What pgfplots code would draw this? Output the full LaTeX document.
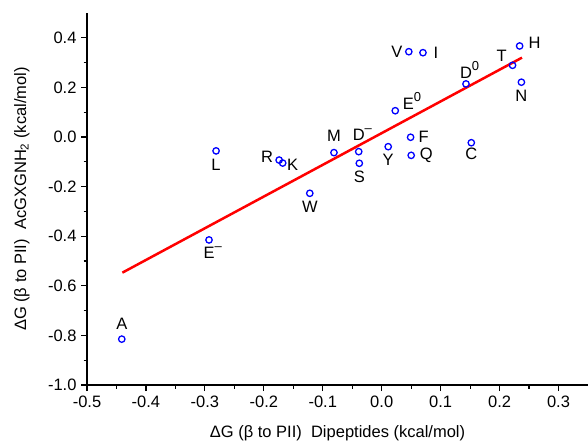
\documentclass[border=0pt]{standalone}
\usepackage{pgfplots}
\pgfplotsset{compat=1.18}
\usepackage{fontspec}
\setmainfont{Liberation Sans}

\newcommand{\lbl}{\fontsize{16.5}{19}\selectfont}
\newcommand{\charge}[1]{\rlap{\raisebox{0.5em}{\fontsize{13}{14}\selectfont #1}}}

\begin{document}
\begin{tikzpicture}
\begin{axis}[
    scale only axis,
    width=501pt, height=372pt,
    xmin=-0.5, xmax=0.35,
    ymin=-1.0, ymax=0.5,
    axis lines*=left,
    axis line style={line width=1.3pt},
    tick style={black, line width=1.2pt},
    tick align=outside,
    major tick length=6pt,
    minor tick length=3.5pt,
    minor x tick num=1,
    minor y tick num=1,
    xtick={-0.5,-0.4,-0.3,-0.2,-0.1,0,0.1,0.2,0.3},
    xticklabels={-0.5,-0.4,-0.3,-0.2,-0.1,0.0,0.1,0.2,0.3},
    ytick={-1.0,-0.8,-0.6,-0.4,-0.2,0,0.2,0.4},
    yticklabels={-1.0,-0.8,-0.6,-0.4,-0.2,0.0,0.2,0.4},
    tick label style={font=\lbl},
    xticklabel style={yshift=-1pt},
    yticklabel style={xshift=-1pt},
    xlabel={ΔG (β to PII)\ \ Dipeptides (kcal/mol)},
    ylabel={ΔG (β to PII)\ \ AcGXGNH\textsubscript{2} (kcal/mol)},
    every axis x label/.style={at={(axis description cs:0.5,-0.129)}, anchor=center, font=\lbl},
    every axis y label/.style={at={(axis description cs:-0.13,0.5)}, anchor=center, rotate=90, font=\lbl},
    clip=false,
]
% amino acid points
\addplot[only marks, mark=o, mark size=3.2pt, blue, mark options={line width=1.3pt}] coordinates {
    (-0.441,-0.815) % A
    (-0.293,-0.415) % E-
    (-0.281,-0.056) % L
    (-0.174,-0.093) % R
    (-0.168,-0.105) % K
    (-0.122,-0.227) % W
    (-0.081,-0.063) % M
    (-0.039,-0.059) % D-
    (-0.038,-0.106) % S
    (0.011,-0.039)  % Y
    (0.049,-0.001)  % F
    (0.050,-0.074)  % Q
    (0.152,-0.023)  % C
    (0.023,0.106)   % E0
    (0.046,0.344)   % V
    (0.070,0.340)   % I
    (0.143,0.214)   % D0
    (0.222,0.289)   % T
    (0.234,0.367)   % H
    (0.237,0.221)   % N
};
% linear fit
\addplot[red, line width=2.5pt] coordinates {(-0.44,-0.547) (0.238,0.320)};

\begin{scope}[every node/.style={font=\lbl, inner sep=0pt, anchor=center}]
\node[yshift=15pt] at (axis cs:-0.441,-0.815) {A};
\node[yshift=-13pt] at (axis cs:-0.293,-0.415) {E\charge{–}};
\node[yshift=-14pt] at (axis cs:-0.281,-0.056) {L};
\node[xshift=-12pt, yshift=3pt] at (axis cs:-0.174,-0.093) {R};
\node[xshift=10pt, yshift=-2pt] at (axis cs:-0.168,-0.105) {K};
\node[yshift=-14pt] at (axis cs:-0.122,-0.227) {W};
\node[yshift=17pt] at (axis cs:-0.081,-0.063) {M};
\node[yshift=17pt] at (axis cs:-0.039,-0.059) {D\charge{–}};
\node[yshift=-14pt] at (axis cs:-0.038,-0.106) {S};
\node[yshift=-13pt] at (axis cs:0.011,-0.039) {Y};
\node[xshift=13pt] at (axis cs:0.049,-0.001) {F};
\node[xshift=15pt] at (axis cs:0.050,-0.074) {Q};
\node[yshift=-11pt] at (axis cs:0.152,-0.023) {C};
\node[xshift=13pt, yshift=10pt] at (axis cs:0.023,0.106) {E\charge{0}};
\node[xshift=-12pt] at (axis cs:0.046,0.344) {V};
\node[xshift=13pt] at (axis cs:0.070,0.340) {I};
\node[yshift=14pt] at (axis cs:0.143,0.214) {D\charge{0}};
\node[xshift=-11pt, yshift=10pt] at (axis cs:0.222,0.289) {T};
\node[xshift=15pt, yshift=3pt] at (axis cs:0.234,0.367) {H};
\node[yshift=-14pt] at (axis cs:0.237,0.221) {N};
\end{scope}

\coordinate (bbsw) at (rel axis cs:0,0);
\coordinate (bbne) at (rel axis cs:1,1);
\end{axis}
\pgfresetboundingbox
\path ([shift={(-87pt,-60pt)}]bbsw) rectangle ([shift={(0pt,13pt)}]bbne);
\end{tikzpicture}
\end{document}
